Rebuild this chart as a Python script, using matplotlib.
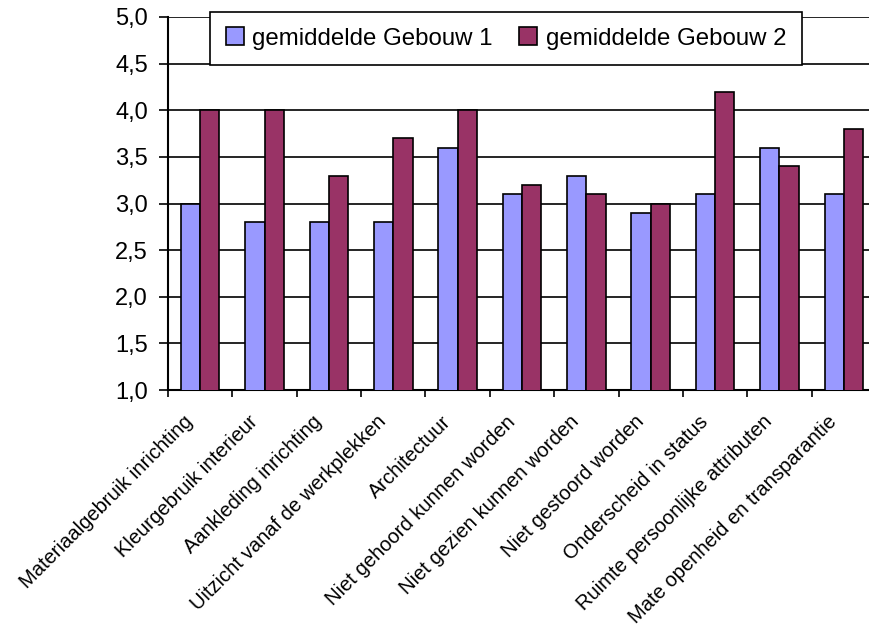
import numpy as np
import matplotlib.pyplot as plt
import matplotlib.transforms as mtransforms
from matplotlib.ticker import FuncFormatter

plt.rcParams['font.family'] = ['Liberation Sans', 'DejaVu Sans']

categories = ['Materiaalgebruik inrichting', 'Kleurgebruik interieur',
              'Aankleding inrichting', 'Uitzicht vanaf de werkplekken',
              'Architectuur', 'Niet gehoord kunnen worden',
              'Niet gezien kunnen worden', 'Niet gestoord worden',
              'Onderscheid in status', 'Ruimte persoonlijke attributen',
              'Mate openheid en transparantie']
gebouw1 = [3.0, 2.8, 2.8, 2.8, 3.6, 3.1, 3.3, 2.9, 3.1, 3.6, 3.1]
gebouw2 = [4.0, 4.0, 3.3, 3.7, 4.0, 3.2, 3.1, 3.0, 4.2, 3.4, 3.8]
series_names = ['gemiddelde Gebouw 1', 'gemiddelde Gebouw 2']

fig = plt.figure(figsize=(8.7, 6.3), dpi=100)
ax = fig.add_axes([168/870, 240/630, 708/870, 373/630])

x = np.arange(len(categories))
w = 0.3
ax.bar(x - w/2, gebouw1, w, color='#9999FF', edgecolor='black',
       linewidth=1.2, label=series_names[0], zorder=3)
ax.bar(x + w/2, gebouw2, w, color='#993366', edgecolor='black',
       linewidth=1.2, label=series_names[1], zorder=3)

ax.set_ylim(1.0, 5.0)
ax.set_xlim(-0.5, len(categories) - 0.5)
ax.set_yticks(np.arange(1.0, 5.01, 0.5))
ax.yaxis.set_major_formatter(FuncFormatter(lambda v, p: ('%.1f' % v).replace('.', ',')))
ax.yaxis.grid(True, color='black', linewidth=1.2, zorder=0)
ax.set_axisbelow(True)

ax.set_xticks(np.arange(len(categories) + 1) - 0.5)
ax.set_xticklabels([])
ax.set_xticks(x, minor=True)
ax.set_xticklabels(categories, minor=True, rotation=45, ha='right', va='center',
                   rotation_mode='anchor', fontsize=14.5)
ax.tick_params(axis='x', which='minor', length=0, pad=15)
ax.tick_params(axis='x', which='major', length=5, width=1.2, direction='out')
ax.tick_params(axis='y', length=6.5, width=1.2, labelsize=17, pad=8)

# shift the slanted labels a bit down-left, along their baseline
offset = mtransforms.ScaledTranslation(-0.10, -0.08, fig.dpi_scale_trans)
for lbl in ax.get_xticklabels(minor=True):
    lbl.set_transform(lbl.get_transform() + offset)

for s in ['top', 'right']:
    ax.spines[s].set_visible(False)
for s in ['left', 'bottom']:
    ax.spines[s].set_linewidth(1.5)

leg = ax.legend(ncol=2, loc='center', mode='expand',
                bbox_to_anchor=(210/870, 1 - 64/630, 592/870, 51/630),
                bbox_transform=fig.transFigure, fontsize=17.3,
                frameon=True, fancybox=False, framealpha=1,
                edgecolor='black', handlelength=0.75, handleheight=0.75,
                handletextpad=0.35, columnspacing=2.0, borderaxespad=0,
                borderpad=0.65)
leg.get_frame().set_linewidth(1.2)

fig.savefig('out.png', dpi=100)
